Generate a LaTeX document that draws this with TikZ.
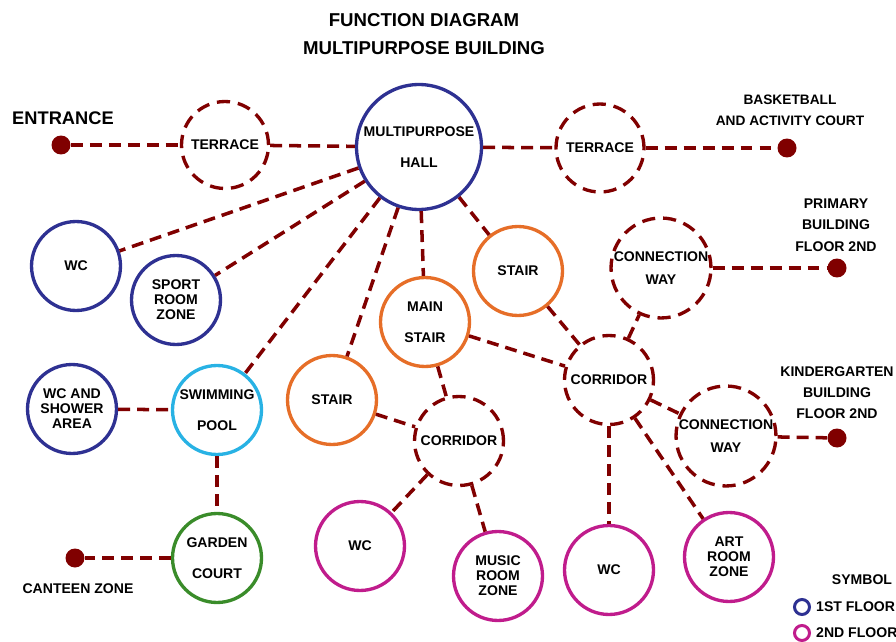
\documentclass[tikz,border=0pt]{standalone}
\usepackage{fontspec}
\setmainfont{Liberation Sans}

\definecolor{linkred}{RGB}{128,0,0}
\definecolor{floorA}{RGB}{46,49,146}
\definecolor{floorB}{RGB}{192,28,140}
\definecolor{stairor}{RGB}{230,110,40}
\definecolor{poolcy}{RGB}{40,178,228}
\definecolor{gardgr}{RGB}{58,140,42}

\begin{document}
\begin{tikzpicture}[x=0.02cm,y=-0.02cm,
  lbl/.style={font=\bfseries\fontsize{8}{8.5}\selectfont, align=center},
  room/.style={circle, draw, line width=1.9pt, minimum size=1.78cm, inner sep=0pt, lbl},
  open/.style={room, draw=linkred, dash pattern=on 7.5pt off 4.5pt},
  dot/.style={circle, fill=linkred, minimum size=0.38cm, inner sep=0pt},
  conn/.style={draw=linkred, line width=2pt, dash pattern=on 6.8pt off 4pt}]

\useasboundingbox (0,0) rectangle (896,642);

% Заголовок
\node[lbl, font=\bfseries\fontsize{10.6}{12}\selectfont] (title1) at (424,20) {FUNCTION DIAGRAM};
\node[lbl, font=\bfseries\fontsize{10.6}{12}\selectfont] (title2) at (424,48) {MULTIPURPOSE BUILDING};

% Верхний ряд
\node[dot] (entr) at (61,145) {};
\node[lbl, font=\bfseries\fontsize{10.4}{12}\selectfont] (entrtxt) at (63,118) {ENTRANCE};
\node[open, minimum size=1.74cm] (terrL) at (225,145) {TERRACE};
\node[room, draw=floorA, minimum size=2.5cm] (hall) at (419,147) {MULTIPURPOSE\\[9pt]HALL};
\node[open, minimum size=1.76cm] (terrR) at (600,148) {TERRACE};
\node[dot] (court) at (787,148) {};
\node[lbl, font=\bfseries\fontsize{7.8}{12}\selectfont] (courttxt) at (790,110) {BASKETBALL\\AND ACTIVITY COURT};

% 1 этаж
\node[room, draw=floorA] (wcA) at (76,266) {WC};
\node[room, draw=floorA] (sport) at (176,300) {SPORT\\ROOM\\ZONE};
\node[room, draw=floorA] (shower) at (72,409) {WC AND\\SHOWER\\AREA};
\node[room, draw=poolcy] (pool) at (217,410) {SWIMMING\\[9pt]POOL};
\node[room, draw=gardgr] (garden) at (217,558) {GARDEN\\[9pt]COURT};
\node[dot] (cant) at (75,558) {};
\node[lbl] (canttxt) at (78,589) {CANTEEN ZONE};

% Лестницы
\node[room, draw=stairor] (stairM) at (425,322) {MAIN\\[9pt]STAIR};
\node[room, draw=stairor] (stairR) at (518,271) {STAIR};
\node[room, draw=stairor] (stairL) at (332,400) {STAIR};

% Коридоры и переходы
\node[open] (corrR) at (609,380) {CORRIDOR};
\node[open] (corrL) at (459,441) {CORRIDOR};
\node[open, minimum size=1.76cm] (connT) at (661,268) {CONNECTION\\[5pt]WAY};
\node[open, minimum size=1.76cm] (connB) at (726,436) {CONNECTION\\[5pt]WAY};
\node[dot] (prim) at (837,268) {};
\node[lbl, font=\bfseries\fontsize{8}{12.3}\selectfont] (primtxt) at (836,225) {PRIMARY\\BUILDING\\FLOOR 2ND};
\node[dot] (kind) at (837,438) {};
\node[lbl, font=\bfseries\fontsize{8}{12}\selectfont] (kindtxt) at (837,393) {KINDERGARTEN\\BUILDING\\FLOOR 2ND};

% 2 этаж
\node[room, draw=floorB] (wcB) at (360,546) {WC};
\node[room, draw=floorB] (music) at (498,576) {MUSIC\\ROOM\\ZONE};
\node[room, draw=floorB] (wcC) at (609,570) {WC};
\node[room, draw=floorB] (art) at (729,557) {ART\\ROOM\\ZONE};

% Связи
\foreach \a/\b in {entr/terrL, terrL/hall, hall/terrR, terrR/court,
                   hall/wcA, hall/sport, hall/pool, hall/stairL, hall/stairM, hall/stairR,
                   shower/pool, pool/garden, garden/cant,
                   stairM/corrL, stairM/corrR, stairR/corrR, stairL/corrL,
                   corrL/wcB, corrL/music,
                   corrR/connT, corrR/connB, corrR/wcC, corrR/art,
                   connT/prim, connB/kind}
  \draw[conn] (\a) -- (\b);

% Обозначения
\node[lbl] (symb) at (862,580) {SYMBOL};
\foreach \c/\t/\y in {floorA/1ST FLOOR/607, floorB/2ND FLOOR/633} {
  \node[circle, draw=\c, line width=1.7pt, minimum size=0.3cm, inner sep=0pt] (key\y) at (802,\y) {};
  \node[lbl, anchor=west] (keytxt\y) at (810,\y) {\t};
}

\end{tikzpicture}
\end{document}
